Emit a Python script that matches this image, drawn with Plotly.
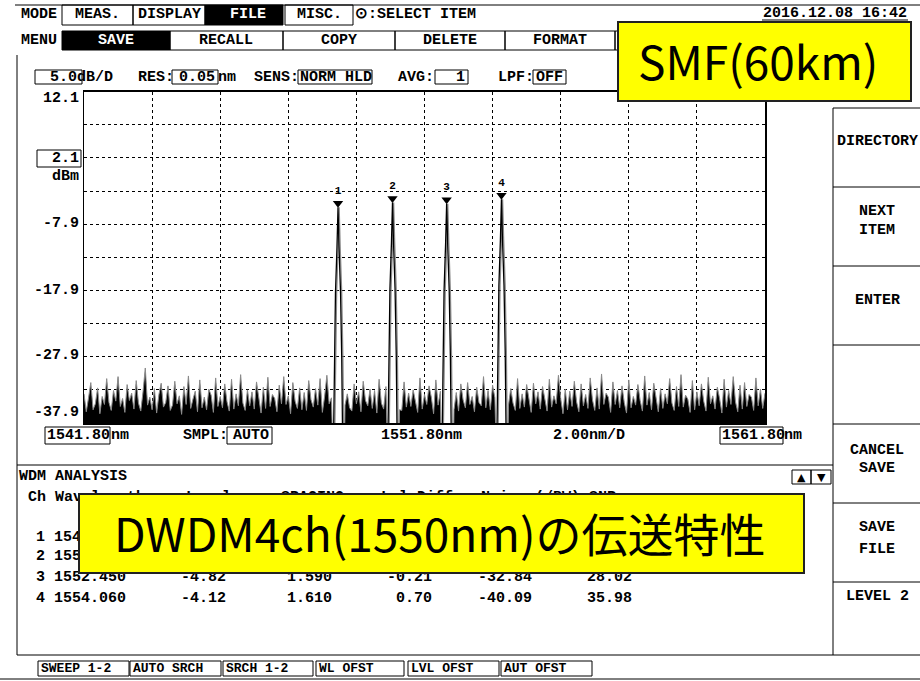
import numpy as np
import plotly.graph_objects as go

W, H = 920, 681

# ---------------- data ----------------
wl_start, wl_stop = 1541.80, 1561.80          # nm
lvl_top, lvl_bottom = 12.1, -37.9             # dBm
x_div_nm, y_div_db = 2.0, 5.0

ch_no = [1, 2, 3, 4]
ch_wl = [1549.260, 1550.860, 1552.450, 1554.060]
ch_level = [-5.35, -4.61, -4.82, -4.12]

# peak shape (half width in nm vs. level below the peak in dB)
peak_rel_db = [-42, -33, -23, -13, -6, 0]
peak_halfwidth_nm = [0.15, 0.13, 0.11, 0.075, 0.03, 0.0]

noise_dbm = [
    -33.5, -36.2, -34.1, -31.8, -35.9, -35.0, -32.6, -36.5, -33.9, -35.1, -31.2, -34.8, -36.0, -33.0, -34.6, -30.9, -35.4, -34.2, -36.3, -32.1,
    -34.5, -33.4, -35.8, -31.5, -34.9, -36.1, -33.2, -29.6, -35.2, -34.0, -35.9, -32.7, -36.4, -33.6, -31.9, -35.5, -34.8, -32.3, -36.0, -35.2,
    -31.6, -35.0, -33.8, -36.6, -32.4, -35.1, -30.8, -35.7, -34.3, -33.1, -36.2, -31.4, -35.6, -34.0, -35.9, -32.8, -33.7, -36.3, -31.1, -35.4,
    -33.9, -35.6, -32.0, -34.7, -36.1, -31.3, -35.8, -33.5, -35.3, -30.6, -34.9, -36.0, -32.9, -35.3, -33.2, -35.8, -31.7, -34.5, -36.4, -32.5,
    -35.7, -31.0, -35.4, -33.6, -34.2, -36.2, -32.2, -35.0, -30.9, -35.1, -33.8, -36.5, -31.8, -34.6, -35.7, -32.6, -35.9, -33.3, -36.0, -31.5,
    -34.4, -35.5, -32.7, -35.2, -31.2, -36.3, -33.9, -30.7, -35.0, -34.1, -32.3, -31.4, -33.0, -33.0, -33.0, -35.2, -33.5, -35.6, -36.1, -32.0,
    -35.0, -33.2, -36.2, -31.6, -34.5, -35.3, -32.8, -35.7, -33.0, -36.4, -31.3, -34.9, -35.8, -32.4, -30.8, -35.3, -33.0, -33.0, -33.7, -35.9,
    -36.0, -31.7, -35.5, -33.4, -35.4, -32.9, -34.7, -36.3, -31.1, -35.8, -33.6, -35.1, -32.3, -34.0, -36.5, -31.4, -35.2, -33.1, -35.7, -32.6,
    -34.6, -35.0, -31.0, -35.9, -33.3, -36.1, -32.0, -34.4, -35.6, -31.8, -35.1, -33.9, -36.2, -32.5, -34.8, -35.3, -30.9, -35.6, -33.0, -35.9,
    -32.2, -34.1, -36.4, -31.5, -29.8, -35.4, -33.7, -35.2, -32.7, -34.9, -36.0, -31.2, -35.7, -33.5, -35.5, -32.1, -34.3, -36.3, -31.9, -35.0,
    -33.2, -35.8, -32.4, -34.6, -36.1, -31.3, -35.5, -33.8, -35.0, -30.7, -34.2, -36.5, -32.8, -35.9, -33.1, -35.4, -31.6, -34.7, -36.2, -32.0,
    -35.3, -33.6, -35.7, -31.1, -34.4, -36.0, -32.6, -35.8, -30.5, -35.1, -33.4, -34.0, -36.3, -31.7, -35.1, -33.0, -35.6, -32.3, -34.8, -36.4,
    -31.4, -35.6, -33.9, -35.2, -32.1, -34.5, -36.1, -30.8, -35.2, -33.3, -35.9, -31.9, -34.1, -36.2, -32.7, -35.7, -33.5, -35.0, -31.2, -34.9,
    -36.0, -32.4, -35.4, -30.6, -35.5, -33.7, -34.3, -36.3, -31.5, -35.9, -33.2, -35.3, -32.0, -34.6, -36.1, -31.0, -35.0, -33.8, -35.8, -32.5,
    -34.2, -36.4, -31.3, -35.5, -33.0, -35.1, -30.9, -34.7, -36.2, -32.2, -35.8, -31.8, -35.4, -33.6, -34.0, -36.0, -31.1, -35.3, -32.8, -35.7,
    -33.4,
]

# WDM analysis table (rows 1-2 are mostly hidden by the caption box)
tbl_ch = ["1", "2", "3", "4"]
tbl_wl = ["1549.260", "1550.860", "1552.450", "1554.060"]
tbl_level = ["", "", "-4.82", "-4.12"]
tbl_spacing = ["", "", "1.590", "1.610"]
tbl_lvldiff = ["", "", "-0.21", "0.70"]
tbl_noise = ["", "", "-32.84", "-40.09"]
tbl_snr = ["", "", "28.02", "35.98"]

y_tick_labels = ["12.1", "2.1", "-7.9", "-17.9", "-27.9", "-37.9"]

# ---------------- helpers ----------------
FONT = "Liberation Mono"
annotations = []
shapes = []


def px(x):
    return x / W


def py(y):
    return 1 - y / H


def txt(x, y, s, anchor="left", color="black", size=15, weight="bold", family=FONT):
    annotations.append(dict(
        x=px(x), y=py(y), xref="paper", yref="paper", text=s, showarrow=False,
        xanchor=anchor, yanchor="middle", borderpad=0,
        font=dict(family=family, size=size, color=color, weight=weight)))


def rect(x0, y0, x1, y1, fill=None, lw=1, color="black"):
    shapes.append(dict(
        type="rect", xref="paper", yref="paper", x0=px(x0), x1=px(x1), y0=py(y1), y1=py(y0),
        line=dict(color=color, width=lw), fillcolor=fill if fill else "rgba(0,0,0,0)"))


def line(x0, y0, x1, y1, lw=1, color="black"):
    shapes.append(dict(
        type="line", xref="paper", yref="paper", x0=px(x0), x1=px(x1), y0=py(y0), y1=py(y1),
        line=dict(color=color, width=lw)))


# ---------------- traces ----------------
n = len(noise_dbm)
wl_grid = np.linspace(wl_start, wl_stop, n)
noise = np.array(noise_dbm, dtype=float)
gap_nm = 0.15
for c in ch_wl:
    noise[np.abs(wl_grid - c) < gap_nm] = -60.0

fig = go.Figure()
fig.add_trace(go.Scatter(x=wl_grid, y=np.full(n, -60.0), mode="lines",
                         line=dict(width=0, color="black"), hoverinfo="skip", showlegend=False))
fig.add_trace(go.Scatter(x=wl_grid, y=noise, mode="lines", fill="tonexty", fillcolor="black",
                         line=dict(color="#8a8a8a", width=1), hoverinfo="skip", showlegend=False))

for c, lv in zip(ch_wl, ch_level):
    xs = [c - hw for hw in peak_halfwidth_nm] + [c + hw for hw in reversed(peak_halfwidth_nm[:-1])]
    ys = [lv + r for r in peak_rel_db] + [lv + r for r in reversed(peak_rel_db[:-1])]
    fig.add_trace(go.Scatter(x=[v + 0.035 for v in xs], y=ys, mode="lines",
                             line=dict(color="#8a8a8a", width=1.2), showlegend=False, hoverinfo="skip"))
    fig.add_trace(go.Scatter(x=xs, y=ys, mode="lines",
                             line=dict(color="black", width=1.3), showlegend=False, hoverinfo="skip"))

fig.add_trace(go.Scatter(
    x=ch_wl, y=[lv + 0.6 for lv in ch_level], mode="markers+text",
    marker=dict(symbol="triangle-down", size=9, color="black"),
    text=[str(c) for c in ch_no], textposition="top center",
    textfont=dict(family=FONT, size=11, color="black", weight="bold"),
    cliponaxis=False, showlegend=False, hoverinfo="skip"))

# ---------------- screen furniture ----------------
# top rows
line(15, 5, 920, 5)
txt(20, 15, "MODE")
rect(62, 5, 133, 25); txt(97, 15, "MEAS.", "center")
rect(133, 5, 205, 25); txt(169, 15, "DISPLAY", "center")
rect(205, 5, 283, 25, fill="black"); txt(248, 15, "FILE", "center", color="white")
rect(285, 5, 353, 25); txt(319, 15, "MISC.", "center")
txt(354, 15, "⊙:SELECT ITEM")
txt(908, 13, "2016.12.08 16:42", "right")
line(762, 20, 908, 20)

txt(20, 40, "MENU")
rect(62, 31, 170, 50, fill="black"); txt(116, 40, "SAVE", "center", color="white")
rect(170, 31, 283, 50); txt(226, 40, "RECALL", "center")
rect(283, 31, 395, 50); txt(339, 40, "COPY", "center")
rect(395, 31, 505, 50); txt(450, 40, "DELETE", "center")
rect(505, 31, 615, 50); txt(560, 40, "FORMAT", "center")
rect(615, 31, 720, 50)

# parameter row
rect(35, 70, 82, 84); txt(49, 77, "5.0dB/D")
txt(137, 77, "RES:"); rect(172, 70, 218, 84); txt(178, 77, "0.05"); txt(217, 77, "nm")
txt(253, 77, "SENS:"); rect(298, 70, 372, 84); txt(299, 77, "NORM HLD")
txt(397, 77, "AVG:"); rect(435, 70, 468, 84); txt(466, 77, "1", "right")
txt(497, 77, "LPF:"); rect(533, 70, 566, 84); txt(535, 77, "OFF")

# level labels
txt(80, 98, y_tick_labels[0], "right")
rect(37, 150, 81, 167); txt(80, 158, y_tick_labels[1], "right")
txt(80, 176, "dBm", "right")
txt(80, 223, y_tick_labels[2], "right")
txt(80, 290, y_tick_labels[3], "right")
txt(80, 356, y_tick_labels[4], "right")
txt(80, 412, y_tick_labels[5], "right")

# wavelength labels
rect(45, 427, 110, 444); txt(46, 435, f"{wl_start:.2f}"); txt(110, 435, "nm")
txt(182, 435, "SMPL:"); rect(227, 427, 272, 444); txt(232, 435, "AUTO")
txt(380, 435, f"{(wl_start + wl_stop) / 2:.2f}nm")
txt(552, 435, f"{x_div_nm:.2f}nm/D")
rect(720, 427, 783, 444); txt(721, 435, f"{wl_stop:.2f}"); txt(783, 435, "nm")

# frames
line(17, 55, 17, 655)
line(17, 465, 833, 465)
line(833, 108, 833, 655)
for yy in [108, 187, 266, 345, 424, 503, 582]:
    line(833, yy, 920, yy)
line(17, 655, 920, 655)
line(0, 679, 920, 679)

# right soft keys
txt(877, 141, "DIRECTORY", "center")
txt(877, 212, "NEXT", "center"); txt(877, 231, "ITEM", "center")
txt(877, 300, "ENTER", "center")
txt(877, 450, "CANCEL", "center"); txt(877, 468, "SAVE", "center")
txt(877, 527, "SAVE", "center"); txt(877, 549, "FILE", "center")
txt(877, 596, "LEVEL 2", "center")

# WDM analysis table
txt(18, 476, "WDM ANALYSIS")
rect(792, 470, 811, 484); rect(811, 470, 831, 484)
txt(801.5, 477, "▲", "center", size=11, family="DejaVu Sans")
txt(821, 477, "▼", "center", size=11, family="DejaVu Sans")
txt(27, 497, "Ch Wavelength")
txt(185, 497, "Level")
txt(280, 497, "SPACING")
txt(380, 497, "Lvl Diff")
txt(480, 497, "Noise (/BW)")
txt(588, 497, "SNR")
row_y = [537, 556, 577, 598]
for i in range(4):
    yy = row_y[i]
    txt(35, yy, tbl_ch[i]); txt(53, yy, tbl_wl[i])
    if tbl_level[i]:
        txt(227, yy, tbl_level[i], "right")
        txt(333, yy, tbl_spacing[i], "right")
        txt(433, yy, tbl_lvldiff[i], "right")
        txt(533, yy, tbl_noise[i], "right")
        txt(633, yy, tbl_snr[i], "right")

# bottom soft keys
for x0, x1, lab in [(38, 129, "SWEEP 1-2"), (130, 221, "AUTO SRCH"), (223, 313, "SRCH 1-2"),
                    (316, 404, "WL OFST"), (408, 499, "LVL OFST"), (501, 592, "AUT OFST")]:
    rect(x0, 661, x1, 676)
    txt(x0 + 2, 668.5, lab, size=13)

# yellow caption boxes (drawn last so they cover the screen)
def caption(x0, y0, x1, y1, s, tx, anchor):
    annotations.append(dict(
        x=px(x0), y=py(y0), xref="paper", yref="paper", text=" ", showarrow=False,
        xanchor="left", yanchor="top", width=x1 - x0, height=y1 - y0, borderpad=0,
        bgcolor="#FFFF00", bordercolor="#222222", borderwidth=2, font=dict(size=10)))
    annotations.append(dict(
        x=px(tx), y=py((y0 + y1) / 2), xref="paper", yref="paper", text=s, showarrow=False,
        xanchor=anchor, yanchor="middle",
        font=dict(family="Noto Sans CJK JP", size=46, color="black")))


caption(617, 21, 908, 98, "SMF(60km)", 636, "left")
caption(78, 493, 801, 570, "DWDM4ch(1550nm)の伝送特性", 440, "center")

# ---------------- layout ----------------
axis_common = dict(showgrid=True, gridcolor="black", griddash="dot", gridwidth=1,
                   showticklabels=False, ticks="", zeroline=False,
                   showline=True, mirror=True, linecolor="black", linewidth=1.5)
fig.update_layout(
    width=W, height=H, margin=dict(l=0, r=0, t=0, b=0),
    paper_bgcolor="white", plot_bgcolor="white", showlegend=False,
    xaxis=dict(domain=[84 / W, 765 / W], range=[wl_start, wl_stop], tick0=wl_start, dtick=x_div_nm,
               **axis_common),
    yaxis=dict(domain=[1 - 423 / H, 1 - 91.7 / H], range=[lvl_bottom, lvl_top], tick0=lvl_bottom,
               dtick=y_div_db, **axis_common),
    shapes=shapes, annotations=annotations,
)

fig.write_html("out.html", config={"displayModeBar": False, "staticPlot": True},
               post_script="document.body.style.margin='0px';document.body.style.overflow='hidden';")
